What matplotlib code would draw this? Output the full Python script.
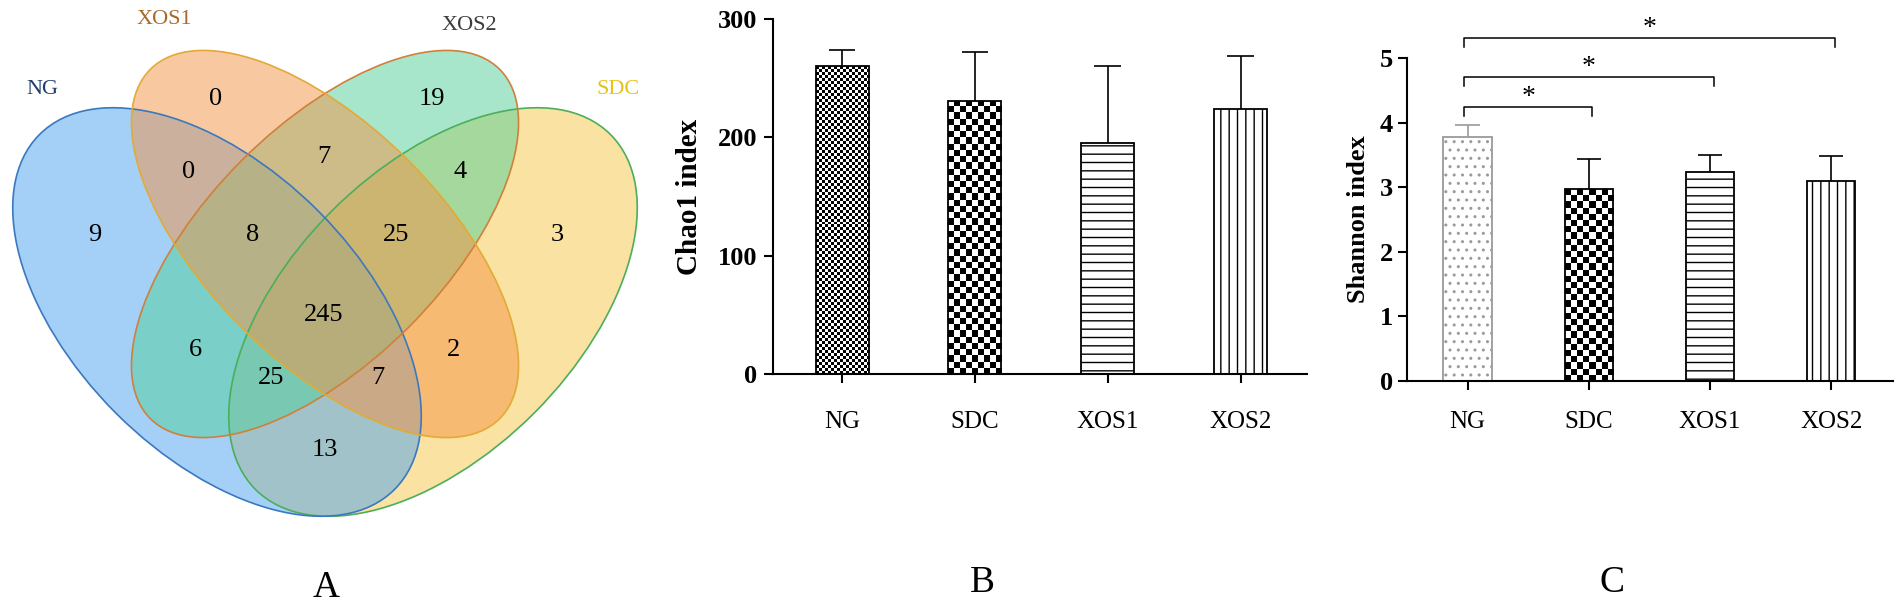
import matplotlib.pyplot as plt
import numpy as np
from matplotlib.patches import Ellipse

plt.rcParams['font.family'] = ['Liberation Serif', 'DejaVu Serif']
plt.rcParams['hatch.linewidth'] = 1.0

# ---- data ----
groups = ["NG", "SDC", "XOS1", "XOS2"]
chao1 = [260, 231, 195, 224]
chao1_err = [13.5, 41, 65, 45]
shannon = [3.78, 2.97, 3.24, 3.09]
shannon_err = [0.19, 0.47, 0.26, 0.39]
sig_pairs = [("NG", "SDC"), ("NG", "XOS1"), ("NG", "XOS2")]
sig_labels = ["*", "*", "*"]

venn_regions = ["NG", "XOS1", "XOS2", "SDC",
                "NG&XOS1", "XOS1&XOS2", "XOS2&SDC",
                "NG&XOS1&XOS2", "XOS1&XOS2&SDC", "ALL",
                "NG&XOS2", "XOS1&SDC", "NG&XOS2&SDC", "NG&XOS1&SDC", "NG&SDC"]
venn_counts = [9, 0, 19, 3, 0, 7, 4, 8, 25, 245, 6, 2, 25, 7, 13]

# ---- layout (pixels of the 1902x609 canvas) ----
W, H = 1902, 609
region_xy = [(95, 235), (216, 99), (432, 99), (557, 235),
             (189, 172), (324, 157), (460, 172),
             (253, 235), (396, 235), (324, 315),
             (195, 350), (453, 350), (271, 378), (378, 378), (325, 450)]

# name: (center, width, height, angle, fill, edge)
ellipses = {
    "SDC": ((433, 312), 502, 286, -45, "#f7c746", "#4cae5a"),
    "NG": ((217, 312), 502, 286, 45, "#4aa3f0", "#3a78c0"),
    "XOS2": ((325, 244), 494, 236, -45, "#52cf9a", "#d0803a"),
    "XOS1": ((325, 244), 494, 236, 45, "#f39445", "#e2aa36"),
}
set_labels = {"NG": ((42, 90), "#1f3f6e"), "XOS1": ((164, 19), "#a86a2c"),
              "XOS2": ((469, 25), "#3c3c3c"), "SDC": ((618, 89), "#e6c21a")}

fig = plt.figure(figsize=(19.02, 6.09), dpi=100)


def px_axes(left, top, right, bottom):
    return fig.add_axes([left / W, 1 - bottom / H, (right - left) / W, (bottom - top) / H])


# ---- A: Venn ----
ax_v = px_axes(0, 0, 700, 609)
ax_v.set_xlim(0, 700)
ax_v.set_ylim(609, 0)
ax_v.axis("off")
for name, (c, w, h, ang, fc, ec) in ellipses.items():
    ax_v.add_patch(Ellipse(c, w, h, angle=ang, facecolor=fc, edgecolor="none", alpha=0.5))
for name, (c, w, h, ang, fc, ec) in ellipses.items():
    ax_v.add_patch(Ellipse(c, w, h, angle=ang, fill=False, edgecolor=ec, lw=1.2))
for (x, y), n in zip(region_xy, venn_counts):
    ax_v.text(x, y, str(n), ha="center", va="center", fontsize=19)
for name, ((x, y), col) in set_labels.items():
    ax_v.text(x, y, name, ha="center", va="center", fontsize=16, color=col)


def checker_fill(ax, bar, square_px):
    x0, y0 = bar.get_x(), bar.get_y()
    w, h = bar.get_width(), bar.get_height()
    (px0, py0), (px1, py1) = ax.transData.transform([(x0, y0), (x0 + w, y0 + h)])
    nx = max(1, int(round(abs(px1 - px0) / square_px)))
    ny = max(1, int(round(abs(py1 - py0) / square_px)))
    board = np.indices((ny, nx)).sum(axis=0) % 2
    im = ax.imshow(board, cmap="gray", extent=(x0, x0 + w, y0, y0 + h), origin="lower",
                   interpolation="nearest", aspect="auto", zorder=1)
    im.set_clip_path(bar)


def bar_panel(ax, vals, errs, ymax, yticks, xlim, first_gray):
    x = np.arange(len(groups))
    ax.set_xlim(*xlim)
    ax.set_ylim(0, ymax)
    bars = ax.bar(x, vals, width=0.4, facecolor="white", edgecolor="black",
                  linewidth=1.3, zorder=2)
    cap = 0.1
    for i, (b, v, e) in enumerate(zip(bars, vals, errs)):
        col = "#9a9a9a" if (first_gray and i == 0) else "black"
        ax.vlines(x[i], v, v + e, color=col, lw=1.2, zorder=3)
        ax.hlines(v + e, x[i] - cap, x[i] + cap, color=col, lw=1.2, zorder=3)
    if first_gray:
        bars[0].set_edgecolor("#9a9a9a")
        bars[0].set_hatch("..")
    else:
        bars[0].set_facecolor("none")
        checker_fill(ax, bars[0], 3)
    bars[1].set_facecolor("none")
    checker_fill(ax, bars[1], 6.2)
    bars[2].set_hatch("--")
    bars[3].set_hatch("||")
    ax.set_xlim(*xlim)
    ax.set_ylim(0, ymax)
    for s in ["top", "right"]:
        ax.spines[s].set_visible(False)
    for s in ["left", "bottom"]:
        ax.spines[s].set_linewidth(1.5)
    ax.set_xticks(x)
    ax.set_xticklabels(groups, fontsize=18)
    ax.set_yticks(yticks)
    ax.set_yticklabels([str(t) for t in yticks], fontsize=19, fontweight="bold")
    ax.tick_params(axis="both", direction="out", length=6.5, width=1.5)
    return x


# ---- B: Chao1 ----
ax_b = px_axes(773, 19, 1307, 374)
bar_panel(ax_b, chao1, chao1_err, 300, [0, 100, 200, 300], (-0.52, 3.5), False)
ax_b.tick_params(axis="x", pad=20)
ax_b.tick_params(axis="y", pad=5)
ax_b.set_ylabel("Chao1 index", fontsize=21, fontweight="bold")
ax_b.yaxis.set_label_coords(-0.131, 0.5)

# ---- C: Shannon ----
ax_c = px_axes(1407, 58, 1893, 381)
xc = bar_panel(ax_c, shannon, shannon_err, 5, [0, 1, 2, 3, 4, 5], (-0.5, 3.51), True)
ax_c.tick_params(axis="x", pad=15)
ax_c.tick_params(axis="y", pad=3.6)
ax_c.set_ylabel("Shannon index", fontsize=19, fontweight="bold")
ax_c.yaxis.set_label_coords(-0.076, 0.5)

bracket_y = [4.24, 4.71, 5.31]
leg = 0.14
for (g0, g1), lab, y in zip(sig_pairs, sig_labels, bracket_y):
    x0 = groups.index(g0) - 0.03
    x1 = groups.index(g1) + 0.03
    ax_c.plot([x0, x0, x1, x1], [y - leg, y, y, y - leg], color="black", lw=1.1,
              clip_on=False, zorder=3)
    ax_c.text((x0 + x1) / 2, y + 0.05, lab, ha="center", va="baseline", fontsize=20,
              clip_on=False)

# ---- panel letters ----
for lab, (x, y) in zip(["A", "B", "C"], [(326, 588), (982, 583), (1612, 583)]):
    fig.text(x / W, 1 - y / H, lab, ha="center", va="center", fontsize=27)

fig.savefig("out.png", dpi=100)
